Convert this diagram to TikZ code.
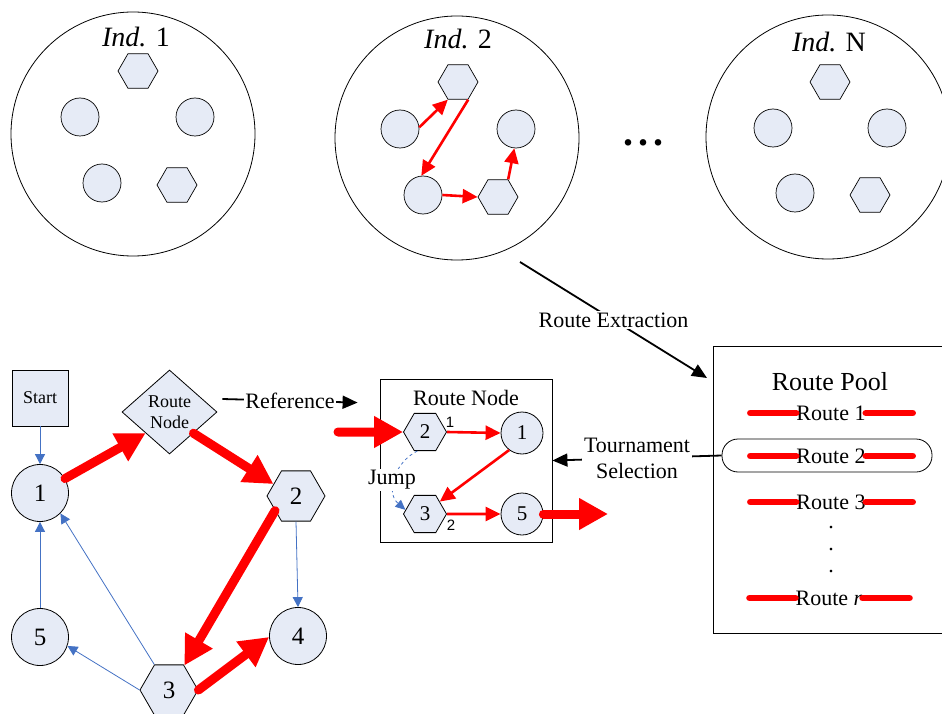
\documentclass[tikz,border=0pt]{standalone}
\usepackage{fontspec}
\setmainfont{Liberation Serif}
\newfontfamily\tagfont{Liberation Sans}
\usetikzlibrary{shapes.geometric,arrows.meta,calc}
\definecolor{nodefill}{RGB}{230,235,246}
\definecolor{linkblue}{RGB}{68,114,196}
\tikzset{
  txt/.style={font=\fontsize{22}{26}\selectfont},
  indcircle/.style={circle,draw,line width=0.8pt,minimum size=244pt,inner sep=0pt},
  indlabel/.style={font=\fontsize{28}{30}\selectfont,inner sep=0pt},
  smallcirc/.style={circle,draw,fill=nodefill,line width=0.7pt,minimum size=38pt,inner sep=0pt},
  smallhex/.style={regular polygon,regular polygon sides=6,draw,fill=nodefill,line width=0.7pt,minimum size=40pt,inner sep=0pt},
  bigcirc/.style={circle,draw,fill=nodefill,line width=0.8pt,minimum size=57pt,inner sep=0pt,font=\fontsize{25}{25}\selectfont},
  bighex/.style={regular polygon,regular polygon sides=6,draw,fill=nodefill,line width=0.8pt,minimum size=58pt,inner sep=0pt,font=\fontsize{25}{25}\selectfont},
  midcirc/.style={circle,draw,fill=nodefill,line width=0.8pt,minimum size=42pt,inner sep=0pt,font=\fontsize{21}{21}\selectfont},
  midhex/.style={regular polygon,regular polygon sides=6,draw,fill=nodefill,line width=0.8pt,minimum size=43pt,inner sep=0pt,font=\fontsize{21}{21}\selectfont},
  smalltag/.style={font=\tagfont\fontsize{15}{15}\selectfont,inner sep=0pt},
  redthick/.style={red,line width=9pt,line cap=round,-{Triangle[length=29pt,width=30pt]}},
  redthin/.style={red,line width=2.6pt,-{Triangle[length=15pt,width=14pt]}},
  bluelink/.style={linkblue,line width=0.8pt,-{Triangle[length=10pt,width=10pt]}},
  blackarrow/.style={black,line width=1.8pt,-{Triangle[length=15pt,width=13pt]}},
  jumplink/.style={linkblue,line width=0.8pt,dashed,-{Triangle[length=10pt,width=9pt]}},
  poolline/.style={red,line width=6.5pt,line cap=round},
  routetext/.style={txt,inner sep=0pt},
  whitelabel/.style={txt,fill=white,inner sep=2pt}
}
\begin{document}
\begin{tikzpicture}[x=1pt,y=-1pt]
\clip (0,0) rectangle (942,714);

% ---------------- individuals ----------------
\node[indcircle] (ind1) at (133,134) {};
\node[indcircle] (ind2) at (457,138) {};
\node[indcircle] (indN) at (828,137) {};

\node[indlabel] (lab1) at (136,37) {\textit{Ind.} 1};
\node[indlabel] (lab2) at (458,39) {\textit{Ind.} 2};
\node[indlabel] (labN) at (829,42) {\textit{Ind.} N};

% individual 1
\node[smallhex]  (a1) at (138,71) {};
\node[smallcirc] (a2) at (80,117) {};
\node[smallcirc] (a3) at (195,117) {};
\node[smallcirc] (a4) at (102,183) {};
\node[smallhex]  (a5) at (177,185) {};

% individual 2 with its route
\node[smallhex]  (b1) at (458,82) {};
\node[smallcirc] (b2) at (400,129) {};
\node[smallcirc] (b3) at (516,129) {};
\node[smallcirc] (b4) at (423,195) {};
\node[smallhex]  (b5) at (498,197) {};
\draw[redthin] (b2.5) -- (b1.-120);
\draw[redthin] (b1.-60) -- (b4.95);
\draw[redthin] (b4.east) -- (b5.west);
\draw[redthin] (b5.60) -- (b3.-95);

% individual N
\node[smallhex]  (n1) at (830,82) {};
\node[smallcirc] (n2) at (773,128) {};
\node[smallcirc] (n3) at (887,128) {};
\node[smallcirc] (n4) at (795,193) {};
\node[smallhex]  (n5) at (870,195) {};

% ellipsis between individuals
\node[anchor=base,inner sep=0pt,font=\fontsize{40}{40}\selectfont] (dots) at (643,146)
  {\textbf{.}\hspace{5pt}\textbf{.}\hspace{5pt}\textbf{.}};

% ---------------- route graph ----------------
\node[draw,fill=nodefill,line width=0.8pt,minimum size=56pt,inner sep=0pt,font=\fontsize{18}{20}\selectfont] (start) at (40,398) {Start};
\node[diamond,draw,fill=nodefill,line width=0.8pt,minimum width=95pt,minimum height=84pt,inner sep=1pt,align=center,font=\fontsize{18}{21}\selectfont] (dm) at (169.5,412) {Route\\Node};
\node[bigcirc] (c1) at (40,493) {1};
\node[bighex]  (h2) at (296,496) {2};
\node[bighex]  (h3) at (169,690) {3};
\node[bigcirc] (c4) at (298,636) {4};
\node[bigcirc] (c5) at (40,637) {5};

\draw[bluelink] (start.south) -- (c1.north);
\draw[bluelink] (h2.south) -- (c4.north);
\draw[bluelink] (c5.north) -- (c1.south);
\draw[bluelink] (h3.120) -- (c1.-45);
\draw[bluelink] (h3.west) -- (c5.-18);

\draw[redthick] (c1.30) -- (dm.south west);
\draw[redthick] (dm.south east) -- (h2.152);
\draw[redthick] (h2.215) -- (h3.58);
\draw[redthick] (h3.east) -- (c4.182);

% ---------------- route node detail ----------------
\node[draw,line width=0.8pt,minimum width=172pt,minimum height=163pt,inner sep=0pt] (rnbox) at (466,460.5) {};
\node[txt,inner sep=0pt] (rntitle) at (466,398) {Route Node};
\node[midhex]  (rh2) at (425,432) {2};
\node[midcirc] (rc1) at (522,433) {1};
\node[midhex]  (rh3) at (425,514) {3};
\node[midcirc] (rc5) at (522,514) {5};
\node[smalltag] (t1) at (450,422) {1};
\node[smalltag] (t2) at (451,525) {2};

\draw[redthin] (rh2.east) -- (rc1.west);
\draw[redthin] (rc1.-127) -- (rh3.40);
\draw[redthin] (rh3.east) -- (rc5.west);

\coordinate (inTail) at (338,432);
\coordinate (outTip) at (608,514);
\draw[redthick] (inTail) -- (rh2.west);
\draw[redthick] (rc5.east) -- (outTip);

\draw[jumplink] (rh2.-112) .. controls (395,462) and (385,492) .. (rh3.168);
\node[whitelabel,inner sep=1pt] (jump) at (392,480) {Jump};

% reference arrow
\coordinate (refStart) at ($(dm.east)+(5,-13)$);
\coordinate (refEnd) at ($(rnbox.north west)+(-22,24)$);
\draw[blackarrow] (refStart) -- node[whitelabel,inner sep=1pt] (reflabel) {Reference} (refEnd);

% ---------------- route pool ----------------
\node[draw,line width=0.8pt,minimum width=250pt,minimum height=287pt,inner sep=0pt,anchor=north west] (pool) at (713,346) {};
\node[txt,font=\fontsize{26}{28}\selectfont,inner sep=0pt] (pooltitle) at (830,382) {Route Pool};

\node[draw,line width=0.8pt,rounded corners=16pt,minimum width=210pt,minimum height=33pt,inner sep=0pt] (rr2) at (827,455.5) {};

\node[routetext] (r1) at (831,413) {Route 1};
\node[routetext] (r2) at (831,456) {Route 2};
\node[routetext] (r3) at (831,502) {Route 3};
\node[routetext] (rn) at (829,598) {Route \textit{r}};
\foreach \r in {r1,r2,r3,rn} {
  \draw[poolline] ($(\r.west)+(-46,0)$) -- (\r.west);
  \draw[poolline] (\r.east) -- ($(\r.east)+(47,0)$);
}
\foreach \y [count=\i] in {528,550,572} {
  \node[routetext] (vd\i) at (831,\y) {.};
}

% route extraction
\coordinate (exStart) at ($(ind2.center)+(63,124)$);
\coordinate (exEnd) at ($(pool.north west)+(-6,32)$);
\draw[blackarrow] (exStart) -- node[whitelabel] (exlabel) {Route Extraction} (exEnd);

% tournament selection
\draw[blackarrow] (rr2.west) -- node[whitelabel,align=center] (tslabel) {Tournament\\Selection} (rnbox.east);

\end{tikzpicture}
\end{document}
